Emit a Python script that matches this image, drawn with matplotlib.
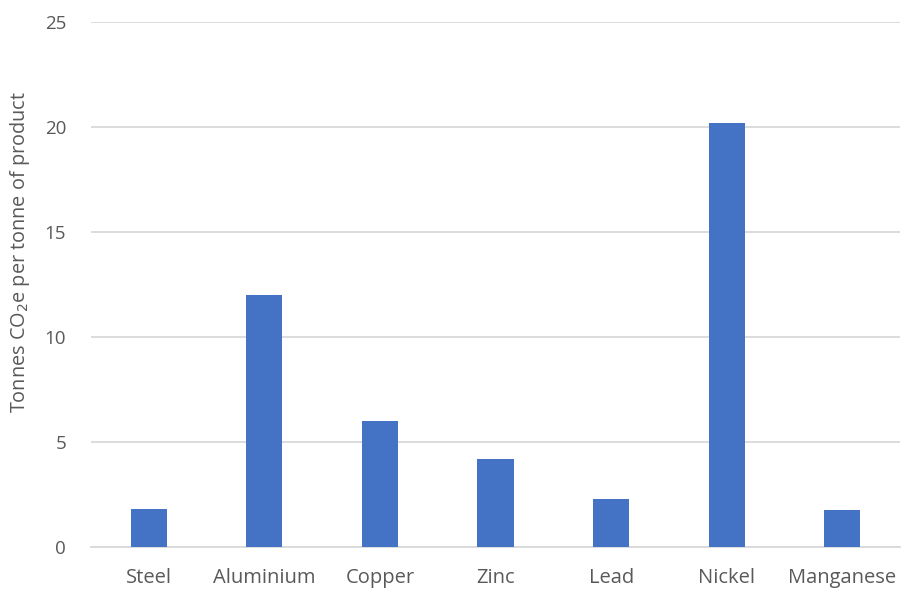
import matplotlib
matplotlib.use("Agg")
import matplotlib.pyplot as plt

categories = ["Steel", "Aluminium", "Copper", "Zinc", "Lead", "Nickel", "Manganese"]
values = [1.85, 12.0, 6.0, 4.2, 2.3, 20.2, 1.8]
y_ticks = [0, 5, 10, 15, 20, 25]

plt.rcParams["font.family"] = ["Open Sans", "DejaVu Sans"]
text_color = "#595959"

fig = plt.figure(figsize=(9.01, 5.92), dpi=100)
ax = fig.add_axes([0.101, 0.0752, 0.898, 0.887])

x = list(range(len(categories)))
ax.bar(x, values, width=0.313, color="#4472C4", zorder=3)

ax.set_xlim(-0.5, len(categories) - 0.5)
ax.set_ylim(0, 25)
ax.set_yticks(y_ticks)
ax.set_xticks(x)
ax.set_xticklabels(categories)

ax.grid(axis="y", color="#D9D9D9", linewidth=1.3, zorder=0)
for side in ["top", "right", "left"]:
    ax.spines[side].set_visible(False)
ax.spines["bottom"].set_color("#D9D9D9")
ax.spines["bottom"].set_linewidth(1.3)

ax.tick_params(axis="both", length=0, colors=text_color)
ax.tick_params(axis="y", pad=18, labelsize=13.5)
ax.tick_params(axis="x", pad=15, labelsize=14.5)

ax.set_ylabel("Tonnes CO$_2$e per tonne of product", fontsize=14.3,
              color=text_color)
ax.yaxis.set_label_coords(-0.073, 0.563)

fig.savefig("out.png", dpi=100)
